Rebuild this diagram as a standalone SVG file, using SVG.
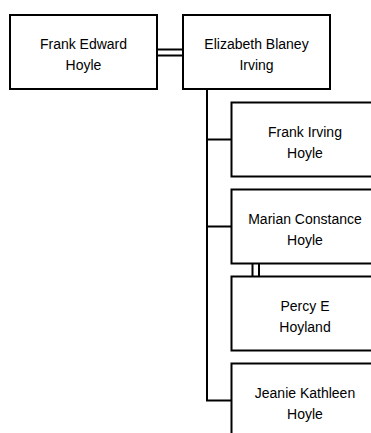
<svg xmlns="http://www.w3.org/2000/svg" width="371" height="433" viewBox="0 0 371 433">
<style>
.box{fill:#fff;stroke:#000;stroke-width:2}
.ln{fill:none;stroke:#000;stroke-width:2}
text{font-family:"Liberation Sans",Arial,sans-serif;font-size:14px;fill:#000;text-anchor:middle}
</style>
<rect width="371" height="433" fill="#fff"/>
<g id="connectors">
<path class="ln" d="M157 49.5H183M157 55.5H183"/>
<path class="ln" d="M207 89V400.5H231.5M207 139.5H231.5M207 226.5H231.5"/>
<path class="ln" d="M252.5 263.5V276.5M259 263.5V276.5"/>
</g>
<g id="frank-edward-hoyle">
<rect class="box" x="10" y="15" width="147" height="74"/>
<text x="83.5" y="49">Frank Edward</text>
<text x="83.5" y="70">Hoyle</text>
</g>
<g id="elizabeth-blaney-irving">
<rect class="box" x="183" y="15" width="147" height="74"/>
<text x="256.5" y="49">Elizabeth Blaney</text>
<text x="256.5" y="70">Irving</text>
</g>
<g id="frank-irving-hoyle">
<rect class="box" x="231.5" y="102.5" width="147" height="74"/>
<text x="305" y="136.5">Frank Irving</text>
<text x="305" y="157.5">Hoyle</text>
</g>
<g id="marian-constance-hoyle">
<rect class="box" x="231.5" y="189.5" width="147" height="74"/>
<text x="305" y="223.5">Marian Constance</text>
<text x="305" y="244.5">Hoyle</text>
</g>
<g id="percy-e-hoyland">
<rect class="box" x="231.5" y="276.5" width="147" height="74"/>
<text x="305" y="310.5">Percy E</text>
<text x="305" y="331.5">Hoyland</text>
</g>
<g id="jeanie-kathleen-hoyle">
<rect class="box" x="231.5" y="363.5" width="147" height="74"/>
<text x="305" y="397.5">Jeanie Kathleen</text>
<text x="305" y="418.5">Hoyle</text>
</g>
</svg>
